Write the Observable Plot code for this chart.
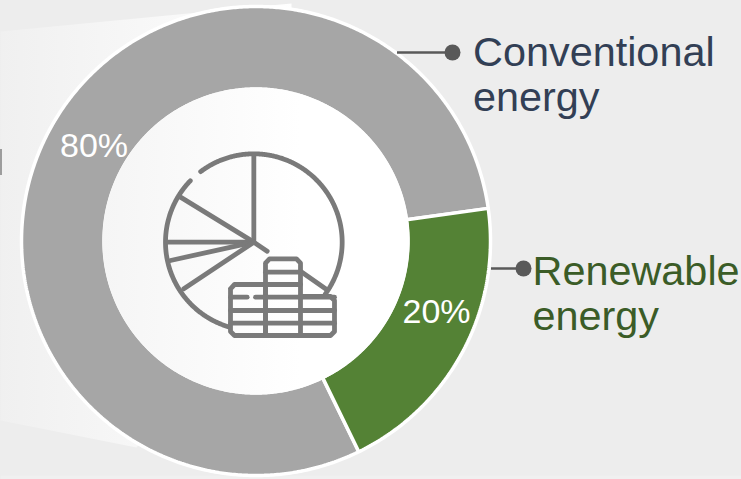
<!DOCTYPE html>
<html>
<head>
<meta charset="utf-8">
<script src="https://cdn.jsdelivr.net/npm/d3@7"></script>
<script src="https://cdn.jsdelivr.net/npm/@observablehq/plot@0.6"></script>
<style>
html,body{margin:0;padding:0;background:#ededed;overflow:hidden}
svg{display:block}
</style>
</head>
<body>
<div id="chart"></div>
<script>
const categories = ["Conventional energy", "Renewable energy"];
const shares = [80, 20];
const shareLabels = ["80%", "20%"];
const sliceColors = ["#a6a6a6", "#548235"];
const legendLines = ["Conventional\nenergy", "Renewable\nenergy"];
const legendColors = ["#323f55", "#3b5c27"];

// Layout (pixels of the 741x479 picture)
const W = 741, H = 479;
const cx = 255.5, cy = 240.5, R = 234.5, r = 152;
const startDeg = 154;
const legendAt = [[472.5, 73.5], [532, 292.5]];
const pctAt = [[93.5, 146], [436, 312]];
const leaders = [[397, 452, 52], [491, 523, 268]];

const rad = d => d * Math.PI / 180;
const polar = (c, a, q) => [c[0] + q * Math.sin(a), c[1] - q * Math.cos(a)];
function arcPts(c, a0, a1, q) {
  const n = Math.max(2, Math.ceil(Math.abs(a1 - a0) / rad(0.5)));
  return d3.range(n + 1).map(i => polar(c, a0 + (a1 - a0) * i / n, q));
}

// Slices from the values, via d3.pie
const pie = d3.pie().sort(null).startAngle(rad(startDeg)).endAngle(rad(startDeg + 360))(shares);
const slicePts = pie.flatMap((s, i) => {
  const ring = [...arcPts([cx, cy], s.startAngle, s.endAngle, R), ...arcPts([cx, cy], s.endAngle, s.startAngle, r)];
  ring.push(ring[0]);
  return ring.map(p => ({x: p[0], y: p[1], name: categories[i]}));
});

// Backdrop shapes
const cone = [[0, 31], [291, 3], [291, 240], [136, 447], [0, 420], [0, 31]];
const hole = arcPts([cx, cy], 0, 2 * Math.PI, 153.5);
const strip = [[0, 475], [W, 475], [W, H], [0, H], [0, 475]];

// Icon: pie outline and coin stacks (drawn in 3x crop units, then mapped)
const ic = ([a, b]) => [150 + a / 3, 140 + b / 3];
const iconC = [310, 305], iconR = 265;
const iconPaths = [
  arcPts(iconC, rad(-37), rad(126), iconR),
  arcPts(iconC, rad(-46), rad(-164), iconR),
  [[310, 45], [310, 305], [350, 332]],
  [[90, 170], [310, 305]],
  [[48, 305], [310, 305]],
  [[60, 360], [310, 305]],
  [[100, 445], [310, 305]],
  [[450, 392], [525, 445]],
  [[240, 445], [252, 432], [345, 432], [345, 585], [252, 585], [240, 573], [240, 445]],
  [[345, 368], [357, 355], [438, 355], [450, 368], [450, 585], [345, 585], [345, 368]],
  [[450, 468], [540, 468], [552, 480], [552, 573], [540, 585], [450, 585]],
  [[345, 395], [450, 395]],
  [[345, 432], [450, 432]],
  [[240, 470], [290, 470]],
  [[315, 470], [552, 470]],
  [[240, 510], [552, 510]],
  [[240, 548], [552, 548]]
].map(p => p.map(ic));
const iconPts = iconPaths.flatMap((p, k) => p.map(q => ({x: q[0], y: q[1], k})));

const defs = () => d3.create("svg:defs").html(
  `<linearGradient id="fade" gradientUnits="userSpaceOnUse" x1="0" y1="0" x2="300" y2="0">
     <stop offset="0" stop-color="#f0f0f0"/><stop offset="1" stop-color="#ffffff"/>
   </linearGradient>`).node();

const xy = pts => pts.map(p => ({x: p[0], y: p[1]}));

const chart = Plot.plot({
  width: W, height: H,
  margin: 0,
  style: {background: "#ededed", fontFamily: "'Liberation Sans', Arial, sans-serif"},
  x: {domain: [0, W], range: [0, W], axis: null},
  y: {domain: [0, H], range: [0, H], axis: null},
  color: {domain: categories, range: sliceColors},
  marks: [
    defs,
    Plot.line(xy(strip), {x: "x", y: "y", fill: "#f0f0f0", stroke: "none"}),
    Plot.line(xy(cone), {x: "x", y: "y", fill: "url(#fade)", stroke: "none"}),
    Plot.line(slicePts, {x: "x", y: "y", z: "name", fill: "name", stroke: "white", strokeWidth: 3.5, strokeLinejoin: "miter"}),
    Plot.line(xy(hole), {x: "x", y: "y", fill: "url(#fade)", stroke: "none"}),
    Plot.line(iconPts, {x: "x", y: "y", z: "k", stroke: "#7a7a7a", strokeWidth: 4.8, strokeLinecap: "round", strokeLinejoin: "round"}),
    Plot.ruleX([0.5], {y1: 149, y2: 175, stroke: "#666", strokeWidth: 1.2}),
    Plot.text(shareLabels, {x: (d, i) => pctAt[i][0], y: (d, i) => pctAt[i][1], text: d => d, fill: "white", fontSize: 34, lineAnchor: "middle"}),
    Plot.ruleY(leaders, {x1: d => d[0], x2: d => d[1], y: d => d[2], stroke: "#595959", strokeWidth: 2.5}),
    Plot.dot(leaders, {x: d => d[1], y: d => d[2], r: 8, fill: "#595959", stroke: "none"}),
    Plot.text(legendLines, {x: (d, i) => legendAt[i][0], y: (d, i) => legendAt[i][1], text: d => d, fill: (d, i) => legendColors[i], textAnchor: "start", lineAnchor: "middle", fontSize: 41.4, lineHeight: 1.08})
  ]
});
document.getElementById("chart").append(chart);
</script>
</body>
</html>
